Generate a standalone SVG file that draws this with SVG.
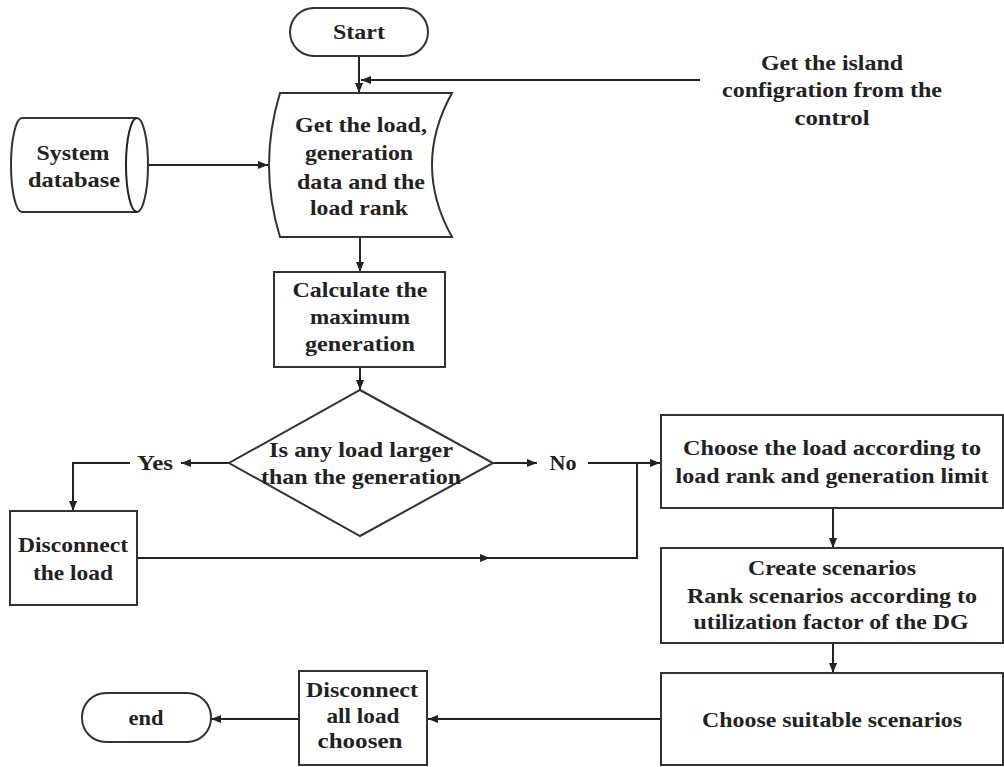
<svg xmlns="http://www.w3.org/2000/svg" width="1004" height="767" viewBox="0 0 1004 767">
<defs>
<marker id="ah" viewBox="0 0 10 8" refX="10" refY="4" markerWidth="10" markerHeight="8" orient="auto" markerUnits="userSpaceOnUse"><path d="M0,0 L10,4 L0,8 z" fill="#222"/></marker>
<style>
.s{fill:#fff;stroke:#333;stroke-width:2}
.c{fill:none;stroke:#222;stroke-width:2}
.a{marker-end:url(#ah)}
text{font-family:"Liberation Serif","Times New Roman",serif;font-weight:bold;font-size:22px;fill:#222;text-anchor:middle}
</style>
</defs>
<rect width="1004" height="767" fill="#fff"/>
<g id="connectors">
<path class="c a" d="M359,56 V93"/>
<path class="c a" d="M700,80 H361"/>
<path class="c a" d="M148,165 H268"/>
<path class="c a" d="M360,237 V272"/>
<path class="c a" d="M360,367 V390"/>
<path class="c a" d="M229,463 H181"/>
<path class="c a" d="M130,463 H73 V511"/>
<path class="c a" d="M137,558 H490"/>
<path class="c" d="M486,558 H637 V463"/>
<path class="c a" d="M493,463 H537"/>
<path class="c a" d="M588,463 H660"/>
<path class="c a" d="M833,508 V548"/>
<path class="c a" d="M833,643 V673"/>
<path class="c a" d="M661,719 H428"/>
<path class="c a" d="M299,719 H211"/>
</g>
<g id="start">
<rect class="s" x="290" y="8" width="138" height="48" rx="24"/>
<text x="359" y="39" textLength="52" lengthAdjust="spacingAndGlyphs">Start</text>
</g>
<g id="island">
<text x="832" y="70" textLength="142" lengthAdjust="spacingAndGlyphs">Get the island</text>
<text x="832" y="97" textLength="220" lengthAdjust="spacingAndGlyphs">configration from the</text>
<text x="832" y="125" textLength="75" lengthAdjust="spacingAndGlyphs">control</text>
</g>
<g id="database">
<path class="s" d="M22,118 L137,118 A11,47 0 0 1 137,212 L22,212 A11,47 0 0 1 22,118 Z"/>
<path class="c" d="M137,118 A11,47 0 0 0 137,212"/>
<text x="73" y="160" textLength="73" lengthAdjust="spacingAndGlyphs">System</text>
<text x="74" y="187" textLength="92" lengthAdjust="spacingAndGlyphs">database</text>
</g>
<g id="getdata">
<path class="s" d="M280,93 L452,93 Q412,165 452,237 L280,237 Q258,165 280,93 Z"/>
<text x="361" y="132" textLength="132" lengthAdjust="spacingAndGlyphs">Get the load,</text>
<text x="359" y="160" textLength="108" lengthAdjust="spacingAndGlyphs">generation</text>
<text x="361" y="189" textLength="128" lengthAdjust="spacingAndGlyphs">data and the</text>
<text x="359" y="215" textLength="98" lengthAdjust="spacingAndGlyphs">load rank</text>
</g>
<g id="calc">
<rect class="s" x="274" y="272" width="171" height="95"/>
<text x="360" y="297" textLength="135" lengthAdjust="spacingAndGlyphs">Calculate the</text>
<text x="360" y="324" textLength="100" lengthAdjust="spacingAndGlyphs">maximum</text>
<text x="360" y="351" textLength="110" lengthAdjust="spacingAndGlyphs">generation</text>
</g>
<g id="decision">
<path class="s" d="M360,390 L493,463 L360,536 L229,463 Z"/>
<text x="361" y="457" textLength="184" lengthAdjust="spacingAndGlyphs">Is any load larger</text>
<text x="361" y="484" textLength="200" lengthAdjust="spacingAndGlyphs">than the generation</text>
</g>
<g id="yes">
<text x="155" y="470" textLength="36" lengthAdjust="spacingAndGlyphs">Yes</text>
</g>
<g id="no">
<text x="563" y="470" textLength="27" lengthAdjust="spacingAndGlyphs">No</text>
</g>
<g id="disconnect">
<rect class="s" x="10" y="511" width="127" height="94"/>
<text x="73" y="552" textLength="110" lengthAdjust="spacingAndGlyphs">Disconnect</text>
<text x="73" y="580" textLength="80" lengthAdjust="spacingAndGlyphs">the load</text>
</g>
<g id="choose">
<rect class="s" x="661" y="415" width="342" height="93"/>
<text x="832" y="455" textLength="298" lengthAdjust="spacingAndGlyphs">Choose the load according to</text>
<text x="832" y="483" textLength="313" lengthAdjust="spacingAndGlyphs">load rank and generation limit</text>
</g>
<g id="create">
<rect class="s" x="661" y="548" width="342" height="95"/>
<text x="832" y="575" textLength="168" lengthAdjust="spacingAndGlyphs">Create scenarios</text>
<text x="832" y="603" textLength="290" lengthAdjust="spacingAndGlyphs">Rank scenarios according to</text>
<text x="831" y="629" textLength="275" lengthAdjust="spacingAndGlyphs">utilization factor of the DG</text>
</g>
<g id="suitable">
<rect class="s" x="661" y="673" width="342" height="92"/>
<text x="832" y="727" textLength="260" lengthAdjust="spacingAndGlyphs">Choose suitable scenarios</text>
</g>
<g id="disconnectall">
<rect class="s" x="299" y="671" width="128" height="94"/>
<text x="362" y="697" textLength="112" lengthAdjust="spacingAndGlyphs">Disconnect</text>
<text x="363" y="723" textLength="73" lengthAdjust="spacingAndGlyphs">all load</text>
<text x="360" y="748" textLength="85" lengthAdjust="spacingAndGlyphs">choosen</text>
</g>
<g id="end">
<rect class="s" x="82" y="693" width="129" height="49" rx="24"/>
<text x="146" y="725" textLength="35" lengthAdjust="spacingAndGlyphs">end</text>
</g>
</svg>
